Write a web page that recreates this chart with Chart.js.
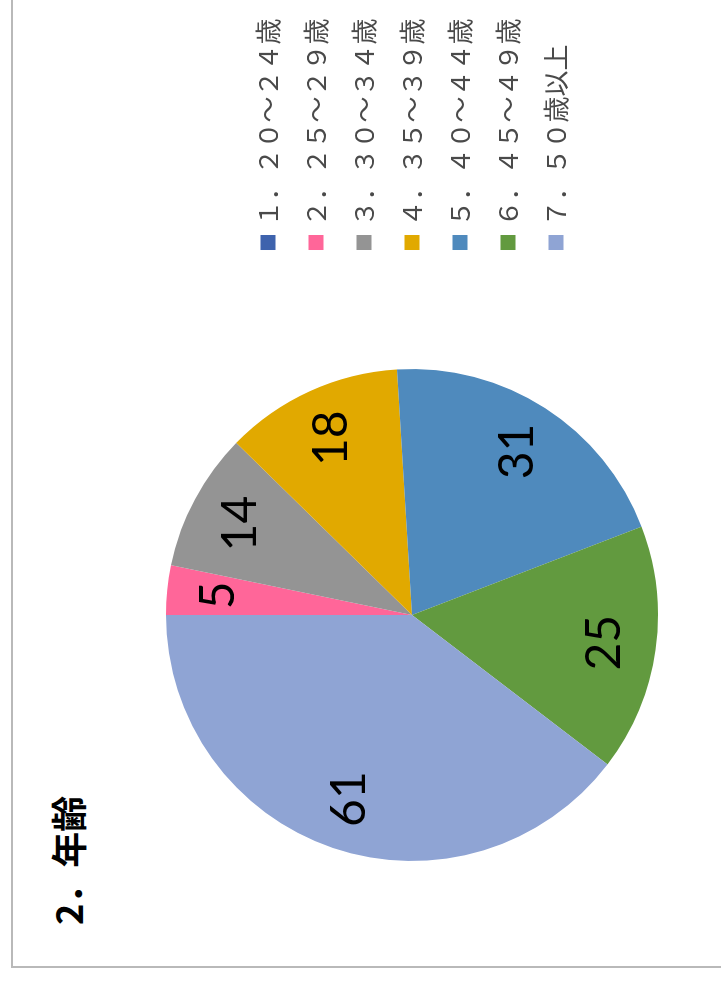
<!DOCTYPE html>
<html>
<head>
<meta charset="utf-8">
<script src="https://cdn.jsdelivr.net/npm/chart.js@4.4.1/dist/chart.umd.min.js"></script>
<style>
  html, body { margin:0; padding:0; background:#fff; overflow:hidden; }
  body { width:721px; height:983px; position:relative; }
  #wrap { position:absolute; left:0; top:0; width:983px; height:721px;
          transform-origin:0 0; transform:translate(0,983px) rotate(-90deg); overflow:hidden; background:#fff; }
  #frame { position:absolute; left:15px; top:11px; width:1200px; height:1000px;
           border:2px solid #b9b9b9; box-sizing:border-box; }
  #title { position:absolute; left:58px; top:49px; font-family:'Noto Sans CJK JP', sans-serif;
           font-weight:bold; font-size:36px; line-height:36px; color:#000; white-space:nowrap; }
  #c { position:absolute; left:0; top:0; }
</style>
</head>
<body>
<div id="wrap">
  <div id="frame"></div>
  <div id="title">2．年齢</div>
  <canvas id="c" width="983" height="721" style="width:983px;height:721px"></canvas>
</div>
<script>
const categories = ['１．２０～２４歳','２．２５～２９歳','３．３０～３４歳','４．３５～３９歳','５．４０～４４歳','６．４５～４９歳','７．５０歳以上'];
const counts = [0, 5, 14, 18, 31, 25, 61];
const sliceColors = ['#3E63AD','#FF6699','#949494','#E1A900','#4F8ABD','#629A3F','#8FA4D4'];

const sliceLabels = {
  id: 'sliceLabels',
  afterDatasetsDraw(chart) {
    const ctx = chart.ctx;
    const meta = chart.getDatasetMeta(0);
    ctx.save();
    ctx.font = "48px Lato, 'Liberation Sans', sans-serif";
    ctx.fillStyle = '#000';
    ctx.textAlign = 'center';
    ctx.textBaseline = 'middle';
    meta.data.forEach((arc, i) => {
      const v = chart.data.datasets[0].data[i];
      if (!v) return;
      const p = arc.getProps(['x','y','startAngle','endAngle','outerRadius'], true);
      const mid = (p.startAngle + p.endAngle) / 2;
      const r = p.outerRadius * 0.79;
      ctx.fillText(String(v), p.x + Math.cos(mid) * r, p.y + Math.sin(mid) * r);
    });
    ctx.restore();
  }
};

new Chart(document.getElementById('c'), {
  type: 'pie',
  data: {
    labels: categories,
    datasets: [{ data: counts, backgroundColor: sliceColors, borderWidth: 0 }]
  },
  options: {
    responsive: false,
    devicePixelRatio: 1,
    animation: false,
    layout: { padding: { top: 166, bottom: 63, left: 20.5, right: 8.5 } },
    plugins: {
      tooltip: { enabled: false },
      title: { display: false },
      legend: {
        display: true,
        position: 'right',
        align: 'center',
        labels: {
          usePointStyle: true,
          pointStyle: 'rect',
          boxWidth: 6,
          boxHeight: 15,
          padding: 22,
          color: '#4a4a4a',
          font: { family: "'Noto Sans CJK JP', sans-serif", size: 26 }
        }
      }
    }
  },
  plugins: [sliceLabels]
});
</script>
</body>
</html>
